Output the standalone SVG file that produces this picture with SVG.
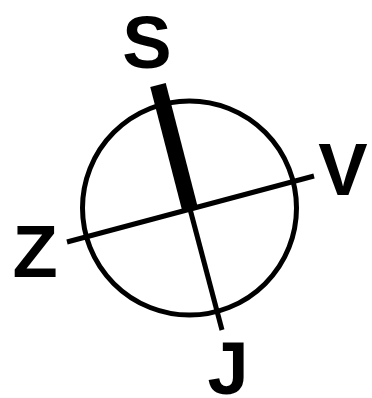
<svg xmlns="http://www.w3.org/2000/svg" width="372" height="398" viewBox="0 0 372 398">
<style>
.lbl{font-family:"Liberation Sans",Arial,sans-serif;font-weight:bold;font-size:74px;text-anchor:middle;fill:#000}
.thin{stroke:#000;stroke-width:5;fill:none}
</style>
<rect width="372" height="398" fill="#fff"/>
<g id="circle"><circle cx="189.5" cy="208" r="107" class="thin"/></g>
<g id="connectors">
<line x1="67" y1="242" x2="314" y2="176" class="thin"/>
<line x1="190" y1="209" x2="222" y2="330" class="thin"/>
<line x1="190" y1="209" x2="158" y2="85" stroke="#000" stroke-width="16"/>
</g>
<g id="S"><text class="lbl" x="147" y="68">S</text></g>
<g id="V"><text class="lbl" x="343" y="195">V</text></g>
<g id="Z"><text class="lbl" x="35" y="277">Z</text></g>
<g id="J"><text class="lbl" x="228" y="394">J</text></g>
</svg>
